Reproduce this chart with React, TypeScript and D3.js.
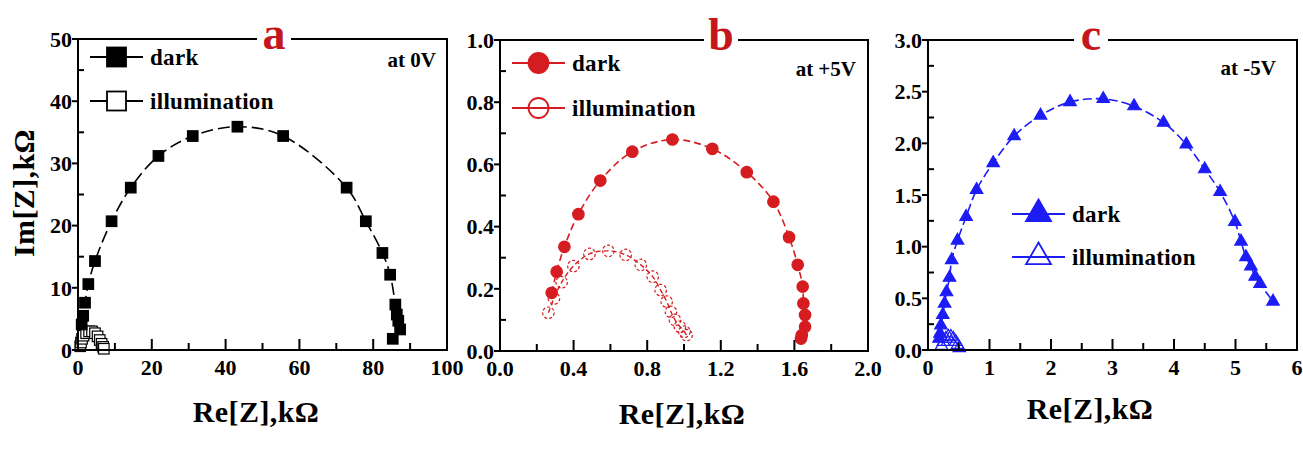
import React from "react";
import * as d3 from "d3";

const W = 1303;
const H = 452;
const FONT = "'Times New Roman', 'Liberation Serif', Tinos, Times, serif";
const RED = "#d51d21";
const BLUE = "#1c1cf5";
const LETTER_RED = "#c4161c";

// panel a, 0 V (kΩ)
const aDarkRe = [1.0, 1.4, 1.9, 2.8, 4.6, 9.1, 14.3, 21.8, 31.1, 43.2, 55.6, 72.8, 78.0, 82.5, 84.6, 86.0, 86.4, 86.8, 87.3, 85.3];
const aDarkIm = [4.1, 5.5, 7.6, 10.6, 14.3, 20.7, 26.1, 31.2, 34.4, 35.9, 34.4, 26.1, 20.7, 15.6, 12.1, 7.3, 5.7, 4.7, 3.3, 1.8];
const aIllRe = [0.6, 0.8, 1.1, 1.5, 2.2, 3.0, 3.8, 4.6, 5.3, 5.9, 6.4, 6.8, 7.0];
const aIllIm = [0.6, 1.2, 1.8, 2.3, 2.7, 3.0, 3.0, 2.7, 2.2, 1.6, 1.0, 0.5, 0.2];

// panel b, +5 V
const bDarkRe = [0.281, 0.308, 0.35, 0.426, 0.545, 0.719, 0.937, 1.154, 1.341, 1.486, 1.571, 1.618, 1.645, 1.649, 1.658, 1.658, 1.64, 1.636];
const bDarkIm = [0.187, 0.255, 0.335, 0.44, 0.548, 0.641, 0.68, 0.65, 0.575, 0.48, 0.366, 0.277, 0.207, 0.153, 0.116, 0.078, 0.051, 0.04];
const bIllRe = [0.263, 0.293, 0.335, 0.399, 0.486, 0.589, 0.683, 0.765, 0.83, 0.873, 0.906, 0.929, 0.951, 0.978, 1.002, 1.014];
const bIllIm = [0.123, 0.169, 0.221, 0.273, 0.312, 0.322, 0.309, 0.277, 0.239, 0.196, 0.159, 0.126, 0.1, 0.078, 0.062, 0.051];

// panel c, -5 V
const cDarkRe = [0.18, 0.195, 0.21, 0.24, 0.27, 0.3, 0.35, 0.385, 0.48, 0.62, 0.79, 1.06, 1.4, 1.83, 2.31, 2.85, 3.35, 3.83, 4.2, 4.5, 4.75, 4.99, 5.09, 5.17, 5.25, 5.32, 5.4, 5.61];
const cDarkIm = [0.11, 0.16, 0.24, 0.34, 0.45, 0.56, 0.7, 0.87, 1.06, 1.29, 1.55, 1.81, 2.07, 2.27, 2.4, 2.43, 2.36, 2.2, 1.99, 1.75, 1.53, 1.24, 1.05, 0.9, 0.81, 0.71, 0.64, 0.47];
const cIllRe = [0.22, 0.25, 0.29, 0.33, 0.37, 0.41, 0.45, 0.48, 0.51];
const cIllIm = [0.04, 0.08, 0.11, 0.13, 0.13, 0.11, 0.08, 0.05, 0.02];

const legendLabels = ["dark", "illumination"];

type Kind = "square" | "circle" | "triangle";

function Marker(props: { kind: Kind; x: number; y: number; size: number; color: string; filled: boolean; sw?: number; dash?: string }) {
  const { kind, x, y, size, color, filled } = props;
  const fill = filled ? color : "white";
  const sw = props.sw ?? 1.2;
  if (kind === "square") {
    return <rect x={x - size / 2} y={y - size / 2} width={size} height={size} fill={fill} stroke={color} strokeWidth={sw} />;
  }
  if (kind === "circle") {
    return <circle cx={x} cy={y} r={size / 2} fill={filled ? color : "none"} stroke={color} strokeWidth={sw} strokeDasharray={props.dash} />;
  }
  // triangle, size is the side length
  const area = (Math.sqrt(3) / 4) * size * size;
  const d = d3.symbol().type(d3.symbolTriangle).size(area)() as string;
  return <path d={d} transform={`translate(${x},${y})`} fill={filled ? color : "none"} stroke={color} strokeWidth={sw} />;
}

function Panel(props: {
  left: number; right: number; top: number; bottom: number;
  xMax: number; yMax: number; xStep: number; yStep: number;
  xFmt: string; yFmt: string;
  dark: [number[], number[]]; ill: [number[], number[]];
  kind: Kind; color: string; markSize: number; legSize: number;
  darkDash: string; illDash: string | null;
  letter: string; letterX: number; bias: string; biasX: number; biasY: number;
  legX: number; legY: number; legGap: number;
  illHollowDash?: string;
}) {
  const p = props;
  const x = d3.scaleLinear().domain([0, p.xMax]).range([p.left, p.right]);
  const y = d3.scaleLinear().domain([0, p.yMax]).range([p.bottom, p.top]);
  const xMajor = d3.range(0, p.xMax + 1e-9, p.xStep);
  const xMinor = d3.range(p.xStep / 2, p.xMax, p.xStep);
  const yMajor = d3.range(0, p.yMax + 1e-9, p.yStep);
  const yMinor = d3.range(p.yStep / 2, p.yMax, p.yStep);
  const xf = d3.format(p.xFmt);
  const yf = d3.format(p.yFmt);
  const line = d3.line<[number, number]>().x((d) => x(d[0])).y((d) => y(d[1])).curve(d3.curveCatmullRom);
  const darkPts: [number, number][] = p.dark[0].map((v, i) => [v, p.dark[1][i]]);
  const illPts: [number, number][] = p.ill[0].map((v, i) => [v, p.ill[1][i]]);
  const tickFont = { fontFamily: FONT, fontWeight: 700, fontSize: 22 } as const;

  return (
    <g>
      <path d={line(illPts) as string} fill="none" stroke={p.color} strokeWidth={1.4} strokeDasharray={p.illDash ?? undefined} />
      {illPts.map((d, i) => (
        <Marker key={"i" + i} kind={p.kind} x={x(d[0])} y={y(d[1])} size={p.markSize} color={p.color} filled={false} dash={p.illHollowDash} />
      ))}
      <path d={line(darkPts) as string} fill="none" stroke={p.color} strokeWidth={1.6} strokeDasharray={p.darkDash} />
      {darkPts.map((d, i) => (
        <Marker key={"d" + i} kind={p.kind} x={x(d[0])} y={y(d[1])} size={p.markSize} color={p.color} filled={true} />
      ))}

      {/* frame */}
      <rect x={p.left} y={p.top} width={p.right - p.left} height={p.bottom - p.top} fill="none" stroke="black" strokeWidth={2} />

      {/* bottom ticks, inward */}
      {xMajor.map((v) => (
        <g key={"xm" + v}>
          <line x1={x(v)} x2={x(v)} y1={p.bottom} y2={p.bottom - 11} stroke="black" strokeWidth={2} />
          <text x={x(v)} y={p.bottom + 25} textAnchor="middle" {...tickFont}>{xf(v)}</text>
        </g>
      ))}
      {xMinor.map((v) => (
        <line key={"xn" + v} x1={x(v)} x2={x(v)} y1={p.bottom} y2={p.bottom - 7} stroke="black" strokeWidth={2} />
      ))}

      {/* left ticks */}
      {yMajor.map((v) => (
        <g key={"ym" + v}>
          <line x1={p.left - 6} x2={p.left} y1={y(v)} y2={y(v)} stroke="black" strokeWidth={2} />
          <text x={p.left - 6} y={y(v)} dy="0.35em" textAnchor="end" {...tickFont}>{yf(v)}</text>
        </g>
      ))}
      {yMinor.map((v) => (
        <line key={"yn" + v} x1={p.left} x2={p.left + 6} y1={y(v)} y2={y(v)} stroke="black" strokeWidth={2} />
      ))}

      {/* legend */}
      {legendLabels.map((lab, i) => {
        const ly = p.legY + i * p.legGap;
        return (
          <g key={lab}>
            <line x1={p.legX} x2={p.legX + 53} y1={ly} y2={ly} stroke={p.color} strokeWidth={1.8} />
            <Marker kind={p.kind} x={p.legX + 26.5} y={ly} size={p.legSize} color={p.color} filled={i === 0} sw={1.8} />
            <text x={p.legX + 60} y={ly + 8} fontFamily={FONT} fontWeight={700} fontSize={23} letterSpacing={0.3}>{lab}</text>
          </g>
        );
      })}

      <text x={p.biasX} y={p.biasY} textAnchor="end" fontFamily={FONT} fontWeight={700} fontSize={21}>{p.bias}</text>

      {/* panel letter cutting the top frame */}
      <rect x={p.letterX - 17} y={p.top - 4} width={34} height={8} fill="white" />
      <text x={p.letterX} y={p.top + 10} textAnchor="middle" fontFamily={FONT} fontWeight={700} fontSize={46} fill={LETTER_RED}>{p.letter}</text>
    </g>
  );
}

export default function App() {
  const axisLabel = { fontFamily: FONT, fontWeight: 700, fontSize: 30, letterSpacing: 0.4 } as const;
  return (
    <svg width={W} height={H} style={{ position: "absolute", left: 0, top: 0, background: "white" }}>
      <Panel left={78} right={447} top={39} bottom={350} xMax={100} yMax={50} xStep={20} yStep={10}
        xFmt="d" yFmt="d" dark={[aDarkRe, aDarkIm]} ill={[aIllRe, aIllIm]} kind="square" color="black"
        markSize={10.5} legSize={19} darkDash="12,5" illDash={null}
        letter="a" letterX={274} bias="at 0V" biasX={436} biasY={67} legX={90} legY={57} legGap={44} />
      <Panel left={500} right={868} top={40} bottom={351} xMax={2} yMax={1} xStep={0.4} yStep={0.2}
        xFmt=".1f" yFmt=".1f" dark={[bDarkRe, bDarkIm]} ill={[bIllRe, bIllIm]} kind="circle" color={RED}
        markSize={11.5} legSize={20} darkDash="7,4" illDash="5,3"
        letter="b" letterX={721} bias="at +5V" biasX={856} biasY={76} legX={512} legY={63} legGap={45} illHollowDash="3,2" />
      <Panel left={928} right={1297} top={40} bottom={350} xMax={6} yMax={3} xStep={1} yStep={0.5}
        xFmt="d" yFmt=".1f" dark={[cDarkRe, cDarkIm]} ill={[cIllRe, cIllIm]} kind="triangle" color={BLUE}
        markSize={12.5} legSize={25} darkDash="9,4" illDash={null}
        letter="c" letterX={1091} bias="at -5V" biasX={1276} biasY={75} legX={1012} legY={214} legGap={43} />

      <text transform="translate(34,193) rotate(-90)" textAnchor="middle" {...axisLabel}>Im[Z],kΩ</text>
      <text x={256} y={422} textAnchor="middle" {...axisLabel}>Re[Z],kΩ</text>
      <text x={682} y={424} textAnchor="middle" {...axisLabel}>Re[Z],kΩ</text>
      <text x={1090} y={419} textAnchor="middle" {...axisLabel}>Re[Z],kΩ</text>
    </svg>
  );
}
